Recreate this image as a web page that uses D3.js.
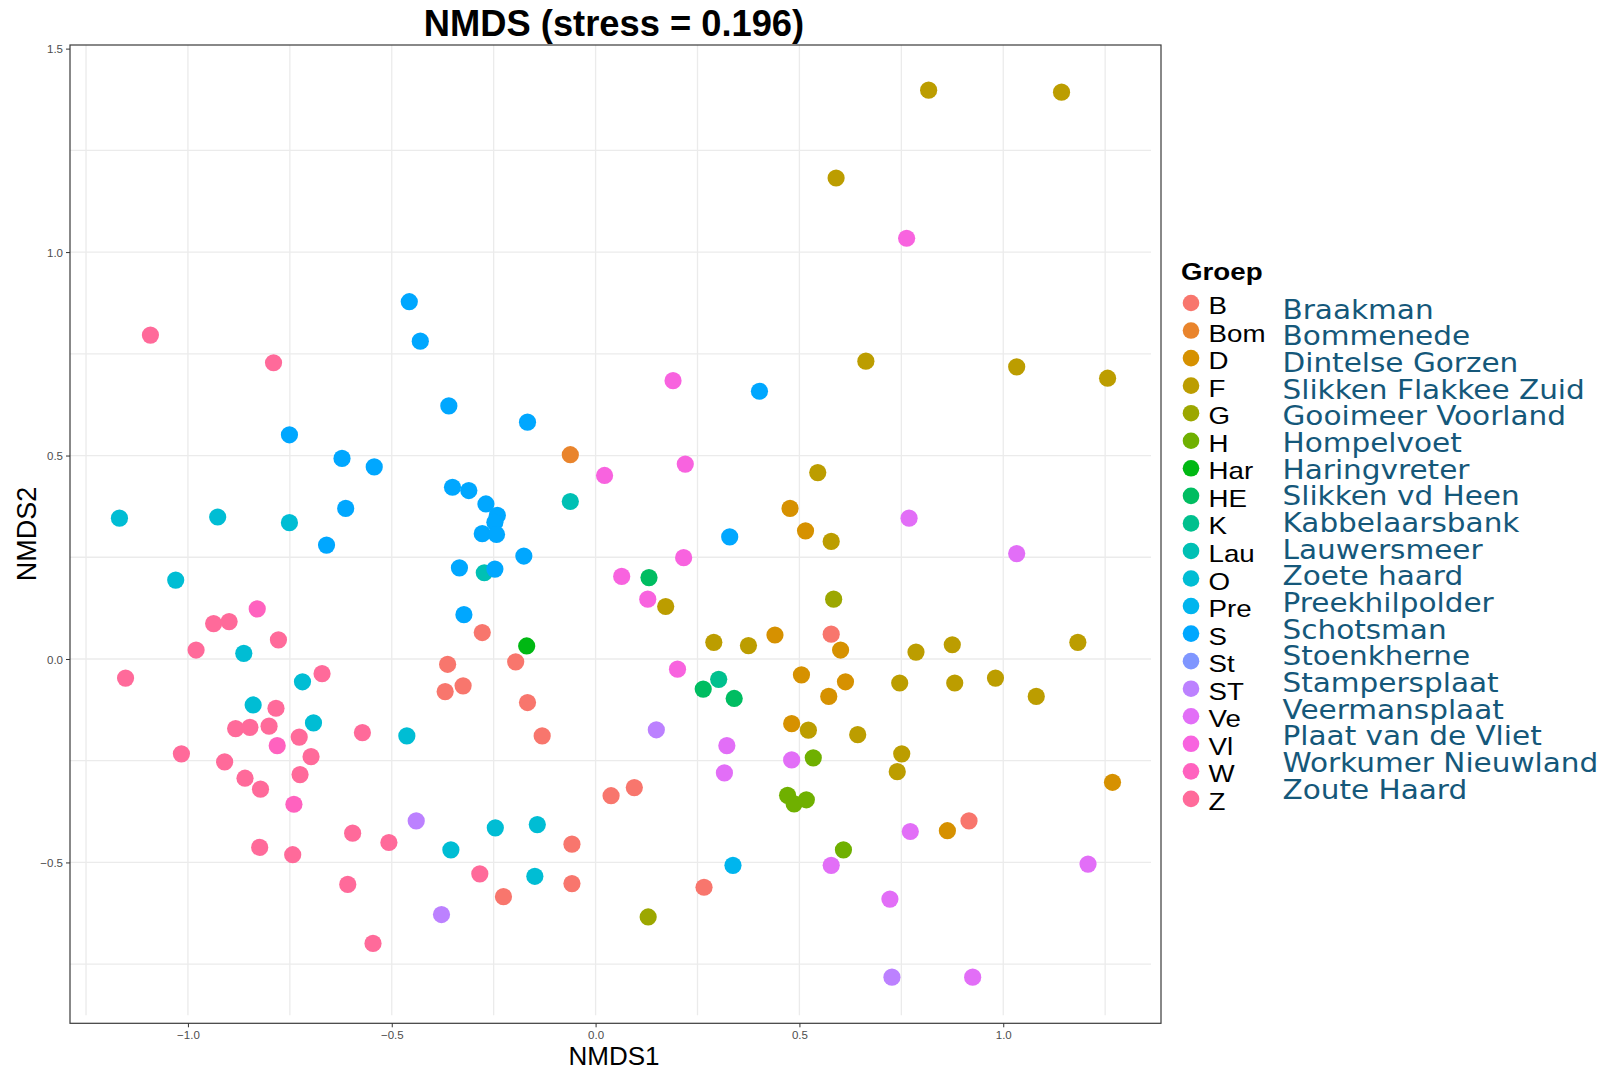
<!DOCTYPE html>
<html>
<head>
<meta charset="utf-8">
<script src="https://cdn.jsdelivr.net/npm/d3@7"></script>
<style>
  html, body { margin: 0; padding: 0; background: #fff; }
  svg { display: block; }
</style>
</head>
<body>
<svg id="chart" width="1601" height="1071"></svg>
<script>
// NMDS ordination of sampling sites, coloured by group (Groep)

const groupCodes = ["B","Bom","D","F","G","H","Har","HE","K","Lau","O","Pre","S","St","ST","Ve","Vl","W","Z"];
const groupNames = ["Braakman","Bommenede","Dintelse Gorzen","Slikken Flakkee Zuid","Gooimeer Voorland",
  "Hompelvoet","Haringvreter","Slikken vd Heen","Kabbelaarsbank","Lauwersmeer","Zoete haard",
  "Preekhilpolder","Schotsman","Stoenkherne","Stampersplaat","Veermansplaat","Plaat van de Vliet",
  "Workumer Nieuwland","Zoute Haard"];

// site scores [NMDS1, NMDS2] per group
const sitesB = [[-0.278,0.065],[-0.363,-0.013],[-0.196,-0.007],[-0.325,-0.066],[-0.369,-0.080],
  [-0.167,-0.107],[-0.131,-0.189],[-0.058,-0.455],[-0.058,-0.552],[-0.226,-0.584],[0.038,-0.336],
  [0.095,-0.316],[0.266,-0.561],[0.578,0.061],[0.916,-0.398]];
const sitesBom = [[-0.062,0.502]];
const sitesD = [[0.477,0.370],[0.515,0.315],[0.440,0.059],[0.601,0.022],[0.505,-0.039],[0.613,-0.056],
  [0.572,-0.092],[0.481,-0.159],[1.268,-0.303],[0.863,-0.422]];
const sitesF = [[0.817,1.398],[1.143,1.393],[0.590,1.182],[0.663,0.732],[1.033,0.718],[1.256,0.690],
  [0.545,0.458],[0.578,0.289],[0.172,0.129],[0.290,0.041],[0.375,0.033],[0.786,0.017],[0.875,0.035],
  [1.183,0.041],[0.746,-0.059],[0.881,-0.059],[0.981,-0.047],[1.081,-0.092],[0.522,-0.175],
  [0.643,-0.186],[0.751,-0.233],[0.740,-0.277]];
const sitesG = [[0.584,0.147],[0.129,-0.634]];
const sitesH = [[0.534,-0.243],[0.471,-0.335],[0.487,-0.356],[0.517,-0.346],[0.608,-0.469]];
const sitesHar = [[-0.169,0.032]];
const sitesHE = [[0.131,0.200],[0.264,-0.074],[0.340,-0.097]];
const sitesK = [[0.302,-0.050]];
const sitesLau = [[-0.062,0.387],[-0.273,0.212]];
const sitesO = [[-1.168,0.346],[-0.927,0.349],[-0.751,0.335],[-1.030,0.194],[-0.863,0.014],
  [-0.719,-0.056],[-0.840,-0.113],[-0.692,-0.157],[-0.463,-0.189],[-0.246,-0.415],[-0.143,-0.407],
  [-0.355,-0.469],[-0.149,-0.534]];
const sitesPre = [[0.337,-0.507]];
const sitesS = [[-0.457,0.878],[-0.430,0.781],[-0.360,0.622],[-0.167,0.582],[-0.751,0.551],
  [-0.622,0.493],[-0.543,0.472],[-0.613,0.370],[-0.660,0.280],[-0.351,0.422],[-0.311,0.414],
  [-0.269,0.381],[-0.241,0.353],[-0.247,0.336],[-0.278,0.308],[-0.243,0.306],[-0.334,0.224],
  [-0.247,0.221],[-0.176,0.253],[-0.323,0.109],[0.402,0.658],[0.329,0.300]];
const sitesSt = [];
const sitesST = [[-0.440,-0.398],[-0.378,-0.628],[0.149,-0.174],[0.727,-0.782]];
const sitesVe = [[0.769,0.346],[1.033,0.259],[0.322,-0.213],[0.481,-0.248],[0.316,-0.280],
  [0.772,-0.424],[0.578,-0.507],[1.208,-0.504],[0.722,-0.590],[0.925,-0.782]];
const sitesVl = [[0.763,1.034],[0.190,0.684],[0.220,0.479],[0.022,0.451],[0.216,0.249],
  [0.064,0.203],[0.128,0.147],[0.201,-0.025]];
const sitesW = [[-0.830,0.123],[-0.781,-0.213],[-0.740,-0.357]];
const sitesZ = [[-1.092,0.796],[-0.790,0.728],[-0.937,0.087],[-0.899,0.092],[-0.778,0.047],
  [-0.980,0.022],[-1.153,-0.047],[-0.671,-0.036],[-0.784,-0.121],[-0.883,-0.171],[-0.848,-0.168],
  [-0.801,-0.165],[-0.727,-0.192],[-0.572,-0.181],[-1.016,-0.233],[-0.698,-0.240],[-0.910,-0.253],
  [-0.725,-0.284],[-0.860,-0.293],[-0.822,-0.320],[-0.596,-0.428],[-0.507,-0.451],[-0.824,-0.463],
  [-0.743,-0.481],[-0.284,-0.528],[-0.608,-0.554],[-0.546,-0.699]];

const sitesByGroup = [sitesB,sitesBom,sitesD,sitesF,sitesG,sitesH,sitesHar,sitesHE,sitesK,sitesLau,
  sitesO,sitesPre,sitesS,sitesSt,sitesST,sitesVe,sitesVl,sitesW,sitesZ];

const xTicks = [-1.0,-0.5,0.0,0.5,1.0];
const yTicks = [-0.5,0.0,0.5,1.0,1.5];
const xGrid = [-1.25,-1.0,-0.75,-0.5,-0.25,0,0.25,0.5,0.75,1.0,1.25];
const yGrid = [-0.75,-0.5,-0.25,0,0.25,0.5,0.75,1.0,1.25];

// evenly spaced hues in polar CIE-LUV (as in R's hcl), c = 100, l = 65
function hclLuv(h, c, l) {
  const hr = h * Math.PI / 180;
  const U = c * Math.cos(hr), V = c * Math.sin(hr);
  const Y = l > 7.999592 ? Math.pow((l + 16) / 116, 3) : l / 903.3;
  const un = 0.1978398, vn = 0.4683363;
  const u = U / (13 * l) + un, v = V / (13 * l) + vn;
  const X = 9 * Y * u / (4 * v);
  const Z = -X / 3 - 5 * Y + 3 * Y / v;
  const lin = [3.240479 * X - 1.537150 * Y - 0.498535 * Z,
               -0.969256 * X + 1.875992 * Y + 0.041556 * Z,
               0.055648 * X - 0.204043 * Y + 1.057311 * Z];
  const gam = t => t > 0.00304 ? 1.055 * Math.pow(t, 1 / 2.4) - 0.055 : 12.92 * t;
  const [r, g, b] = lin.map(t => Math.round(255 * Math.max(0, Math.min(1, gam(t)))));
  return d3.rgb(r, g, b).formatHex();
}
const n = groupCodes.length;
const palette = groupCodes.map((_, i) => hclLuv(15 + i * 360 / n, 100, 65));
const color = d3.scaleOrdinal().domain(groupCodes).range(palette);

const points = [];
groupCodes.forEach((g, i) => sitesByGroup[i].forEach(p => points.push({ group: g, x: p[0], y: p[1] })));

const svg = d3.select("#chart");
const panel = { left: 70, right: 1161, top: 45, bottom: 1023.3 };

const x = d3.scaleLinear().domain([-1.2893, 1.3870]).range([panel.left, panel.right]);
const y = d3.scaleLinear().domain([-0.8953, 1.5089]).range([panel.bottom, panel.top]);

// grid
const grid = svg.append("g").attr("stroke", "#ebebeb").attr("stroke-width", 1.3);
grid.selectAll("line.v").data(xGrid).join("line")
  .attr("x1", d => x(d)).attr("x2", d => x(d))
  .attr("y1", panel.top).attr("y2", panel.bottom - 8);
grid.selectAll("line.h").data(yGrid).join("line")
  .attr("x1", panel.left).attr("x2", 1151)
  .attr("y1", d => y(d)).attr("y2", d => y(d));

// points
svg.append("g").selectAll("circle").data(points).join("circle")
  .attr("cx", d => x(d.x)).attr("cy", d => y(d.y)).attr("r", 8.6)
  .attr("fill", d => color(d.group));

// panel border
svg.append("rect")
  .attr("x", panel.left).attr("y", panel.top)
  .attr("width", panel.right - panel.left).attr("height", panel.bottom - panel.top)
  .attr("fill", "none").attr("stroke", "#3a3a3a").attr("stroke-width", 1.2);

// axes
const xAxis = d3.axisBottom(x).tickValues(xTicks).tickFormat(d3.format(".1f")).tickSize(4).tickPadding(4);
const yAxis = d3.axisLeft(y).tickValues(yTicks).tickFormat(d3.format(".1f")).tickSize(4).tickPadding(3);
const gx = svg.append("g").attr("transform", `translate(0,${panel.bottom})`).call(xAxis);
const gy = svg.append("g").attr("transform", `translate(${panel.left},0)`).call(yAxis);
[gx, gy].forEach(g => {
  g.select(".domain").remove();
  g.selectAll(".tick line").attr("stroke", "#333").attr("stroke-width", 1);
  g.selectAll(".tick text").attr("fill", "#4d4d4d")
    .style("font-family", "'Liberation Sans', Arial, sans-serif").style("font-size", "11.5px");
});
gy.selectAll(".tick text").attr("dy", "0.36em");

// titles
svg.append("text").attr("x", 614).attr("y", 35.5).attr("text-anchor", "middle")
  .style("font-family", "'Liberation Sans', Arial, sans-serif").style("font-weight", "bold")
  .style("font-size", "36.3px").attr("fill", "#000").text("NMDS (stress = 0.196)");
svg.append("text").attr("x", 614).attr("y", 1064.5).attr("text-anchor", "middle")
  .style("font-family", "'Liberation Sans', Arial, sans-serif").style("font-size", "26px")
  .attr("fill", "#000").text("NMDS1");
svg.append("text").attr("transform", "translate(36,534) rotate(-90)").attr("text-anchor", "middle")
  .style("font-family", "'Liberation Sans', Arial, sans-serif").style("font-size", "27px")
  .attr("fill", "#000").text("NMDS2");

// legend
const legend = svg.append("g");
legend.append("text").attr("transform", "translate(1181,279.6) scale(1.155,1)")
  .style("font-family", "'Liberation Sans', Arial, sans-serif").style("font-weight", "bold")
  .style("font-size", "24px").attr("fill", "#000").text("Groep");

const rows = legend.selectAll("g.row").data(groupCodes).join("g");
rows.append("circle")
  .attr("cx", 1191).attr("cy", (d, i) => 303 + i * 27.55).attr("r", 8.3)
  .attr("fill", d => color(d));
rows.append("text")
  .attr("transform", (d, i) => `translate(1208.5,${314 + i * 27.55}) scale(1.155,1)`)
  .style("font-family", "'Liberation Sans', Arial, sans-serif").style("font-size", "24px")
  .attr("fill", "#000").text(d => d);

legend.selectAll("text.name").data(groupNames).join("text")
  .attr("transform", (d, i) => `translate(1282.5,${318.5 + i * 26.67}) scale(1.135,1)`)
  .style("font-family", "'DejaVu Sans', Verdana, sans-serif").style("font-size", "26px")
  .attr("fill", "#15587a").text(d => d);
</script>
</body>
</html>
